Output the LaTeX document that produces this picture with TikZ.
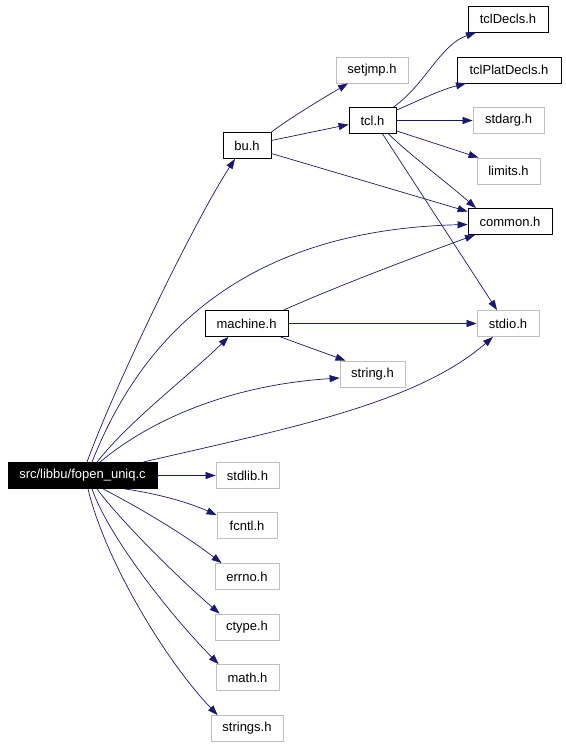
\documentclass[tikz,border=0pt]{standalone}
\usepackage{fontspec}
\setmainfont{Liberation Sans}
\usetikzlibrary{arrows.meta}
\definecolor{edgeblue}{HTML}{191970}
\definecolor{boxgray}{HTML}{BFBFBF}
\tikzset{
    hdr/.style={draw=black, line width=0.8pt, minimum height=26pt, inner sep=0pt,
        font=\fontsize{13}{15}\selectfont},
    hdrgray/.style={hdr, draw=boxgray},
    srcfile/.style={hdr, fill=black, text=white},
    dep/.style={-{Triangle[length=10pt,width=7pt]}, edgeblue, line width=0.7pt}
}
\begin{document}
\begin{tikzpicture}[x=1pt, y=-1pt]
    \useasboundingbox (0,0) rectangle (565,747);
    % files, one row every ~51px
    \node[srcfile, minimum width=149pt] (src) at (82.5,475.5) {src/libbu/fopen\_uniq.c};
    \node[hdr, minimum width=48pt] (bu) at (247,145.5) {bu.h};
    \node[hdr, minimum width=83pt] (machine) at (246.5,323.5) {machine.h};
    \node[hdr, minimum width=47pt] (tcl) at (372.5,120.5) {tcl.h};
    \node[hdr, minimum width=80pt] (tclDecls) at (508,19) {tclDecls.h};
    \node[hdr, minimum width=104pt] (tclPlatDecls) at (509,70) {tclPlatDecls.h};
    \node[hdr, minimum width=84pt] (common) at (510,221.5) {common.h};
    \node[hdrgray, minimum width=72pt] (setjmp) at (372,70) {setjmp.h};
    \node[hdrgray, minimum width=71pt] (stdarg) at (508.5,120.5) {stdarg.h};
    \node[hdrgray, minimum width=63pt] (limits) at (508.5,171) {limits.h};
    \node[hdrgray, minimum width=62pt] (stdio) at (508,323.5) {stdio.h};
    \node[hdrgray, minimum width=65pt] (string) at (372.5,374) {string.h};
    \node[hdrgray, minimum width=63pt] (stdlib) at (247.5,475.5) {stdlib.h};
    \node[hdrgray, minimum width=60pt] (fcntl) at (247,525.5) {fcntl.h};
    \node[hdrgray, minimum width=64pt] (errno) at (247,576.5) {errno.h};
    \node[hdrgray, minimum width=64pt] (ctype) at (247,627) {ctype.h};
    \node[hdrgray, minimum width=63pt] (math) at (247.5,677.5) {math.h};
    \node[hdrgray, minimum width=72pt] (strings) at (247,728.5) {strings.h};

    % includes of the source file
    \draw[dep] ([xshift=4.5pt]src.north) .. controls (115,385) and (195,220) .. ([xshift=-12pt]bu.south);
    \draw[dep] ([xshift=9.5pt]src.north) .. controls (140,340) and (240,230) .. ([yshift=-3pt]common.west);
    \draw[dep] ([xshift=14.5pt]src.north) .. controls (130,420) and (190,375) .. ([xshift=-18pt]machine.south);
    \draw[dep] ([xshift=17.5pt]src.north) .. controls (150,420) and (230,385) .. ([yshift=-4pt]string.west);
    \draw[dep] ([xshift=60.5pt]src.north) .. controls (280,430) and (415,405) .. ([xshift=-15pt]stdio.south);
    \draw[dep] (src.east) -- (stdlib.west);
    \draw[dep] ([xshift=42pt]src.south) .. controls (160,494) and (190,503) .. ([yshift=-3pt]fcntl.north west);
    \draw[dep] ([xshift=20.5pt]src.south) .. controls (140,508) and (185,535) .. ([xshift=7pt]errno.north west);
    \draw[dep] ([xshift=14.5pt]src.south) .. controls (120,520) and (175,575) .. ([xshift=5pt]ctype.north west);
    \draw[dep] ([xshift=9.5pt]src.south) .. controls (110,540) and (175,620) .. ([xshift=3pt]math.north west);
    \draw[dep] ([xshift=5.5pt]src.south) .. controls (105,560) and (165,660) .. ([xshift=7pt]strings.north west);

    % bu.h
    \draw[dep] (bu.north east) .. controls (290,118) and (320,100) .. ([xshift=-24pt]setjmp.south);
    \draw[dep] ([yshift=5pt]bu.east) -- ([yshift=-4pt]tcl.west);
    \draw[dep] ([yshift=-8pt]bu.east) -- ([yshift=10pt]common.west);

    % tcl.h
    \draw[dep] ([xshift=-3pt]tcl.north east) .. controls (425,85) and (440,45) .. ([xshift=-32pt]tclDecls.south);
    \draw[dep] ([yshift=-3pt]tcl.north east) .. controls (420,100) and (440,90) .. ([xshift=-43pt]tclPlatDecls.south);
    \draw[dep] (tcl.east) -- (stdarg.west);
    \draw[dep] ([yshift=3pt]tcl.south east) -- ([xshift=-30pt]limits.north);
    \draw[dep] ([xshift=-8pt]tcl.south east) .. controls (410,155) and (450,185) .. ([xshift=-34pt]common.north);
    \draw[dep] ([xshift=10pt]tcl.south) -- ([xshift=-11pt]stdio.north);

    % machine.h
    \draw[dep] ([xshift=-5pt]machine.north east) .. controls (340,285) and (420,255) .. ([xshift=-35pt]common.south);
    \draw[dep] (machine.east) -- (stdio.west);
    \draw[dep] ([xshift=-8pt]machine.south east) -- ([xshift=-27pt]string.north);
\end{tikzpicture}
\end{document}
